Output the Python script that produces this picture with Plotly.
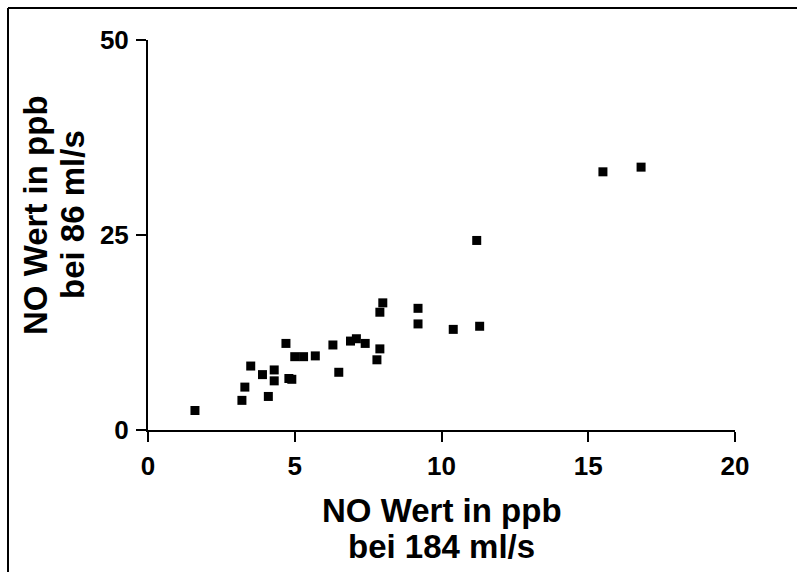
import plotly.graph_objects as go

# Data
no_184 = [1.6, 3.2, 3.3, 3.5, 3.9, 4.1, 4.3, 4.3, 4.7, 4.8, 4.9, 5.0, 5.3, 5.7, 6.3,
          6.5, 6.9, 7.1, 7.4, 7.8, 7.9, 7.9, 8.0, 9.2, 9.2, 10.4, 11.3, 11.2, 15.5, 16.8]
no_86 = [2.5, 3.8, 5.5, 8.2, 7.1, 4.3, 7.7, 6.3, 11.1, 6.6, 6.5, 9.4, 9.4, 9.5, 10.9,
         7.4, 11.4, 11.7, 11.1, 9.0, 10.4, 15.1, 16.3, 15.6, 13.6, 12.9, 13.3, 24.3, 33.1, 33.7]
x_ticks = [0, 5, 10, 15, 20]
y_ticks = [0, 25, 50]
x_title = ["NO Wert in ppb", "bei 184 ml/s"]
y_title = ["NO Wert in ppb", "bei 86 ml/s"]

W, H = 797, 572
L, R, T, B = 148, 735, 40, 430  # plot area in pixels

def px(x):
    return (x - L) / (R - L)

def py(y):
    return (B - y) / (B - T)

FONT = "Liberation Sans, Arial, sans-serif"

fig = go.Figure()
fig.add_trace(go.Scatter(
    x=no_184, y=no_86, mode="markers",
    marker=dict(symbol="square", size=9, color="black", line=dict(width=0)),
    showlegend=False, cliponaxis=False,
))

axis_common = dict(
    showgrid=False, zeroline=False, showline=True, linecolor="black", linewidth=2,
    ticks="outside", ticklen=10, tickwidth=2, tickcolor="black",
    tickfont=dict(family=FONT, size=26, color="black", weight="bold"),
)
fig.update_xaxes(range=[0, 20], tickvals=x_ticks, ticklabelstandoff=2, **axis_common)
fig.update_yaxes(range=[0, 50], tickvals=y_ticks, ticklabelstandoff=2, **axis_common)

annots = []
tfont = dict(family=FONT, size=33, color="black", weight="bold")
# x title lines
for txt, yc in zip(x_title, [510, 546]):
    annots.append(dict(text=txt, x=px(442), y=py(yc), xref="paper", yref="paper",
                       xanchor="center", yanchor="middle", showarrow=False, font=tfont))
# y title lines
for txt, xc in zip(y_title, [36, 73]):
    annots.append(dict(text=txt, x=px(xc), y=py(215), xref="paper", yref="paper",
                       xanchor="center", yanchor="middle", showarrow=False, font=tfont,
                       textangle=-90))

shapes = [
    dict(type="line", xref="paper", yref="paper", x0=px(8), y0=py(8), x1=px(W), y1=py(8),
         line=dict(color="black", width=2)),
    dict(type="line", xref="paper", yref="paper", x0=px(8), y0=py(8), x1=px(8), y1=py(H),
         line=dict(color="black", width=2)),
]

fig.update_layout(
    width=W, height=H,
    margin=dict(l=L, r=W - R, t=T, b=H - B),
    paper_bgcolor="white", plot_bgcolor="white",
    annotations=annots, shapes=shapes,
)

fig.write_html("out.html")
